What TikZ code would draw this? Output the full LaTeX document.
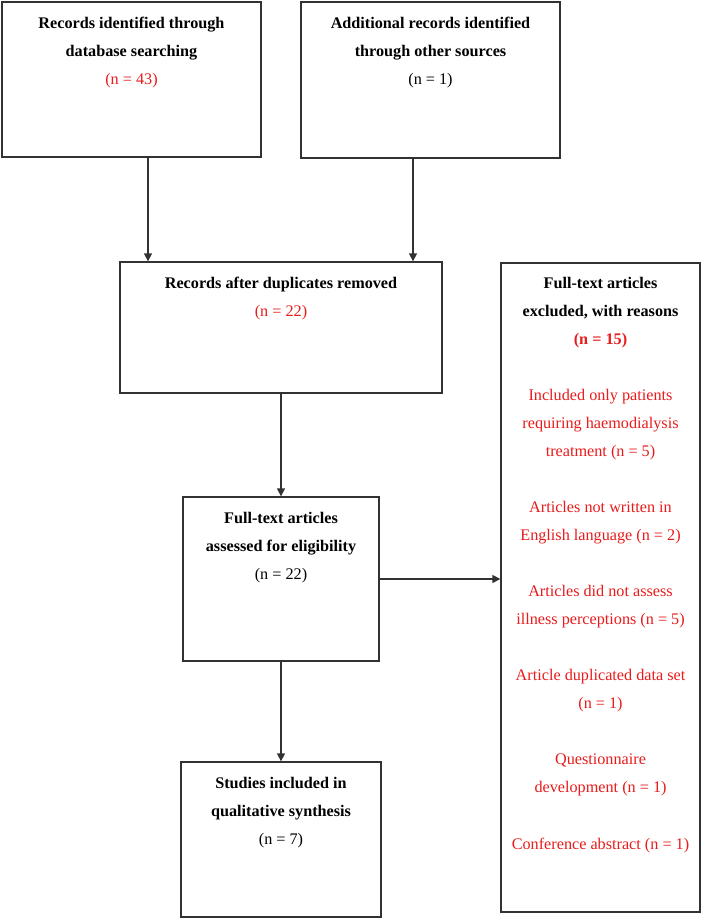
\documentclass[tikz,border=0pt]{standalone}
\usepackage{fontspec}
\setmainfont{Liberation Serif}
\usetikzlibrary{arrows.meta}
\definecolor{nred}{RGB}{232,28,28}
\definecolor{lgray}{RGB}{50,50,50}
\newcommand{\fs}{\fontsize{16.2pt}{28.05pt}\selectfont}
\newcommand{\rd}[1]{\textcolor{nred}{#1}}
\begin{document}
\begin{tikzpicture}[
  box/.style={draw=lgray, line width=1.3pt, inner sep=0pt, fill=white},
  txt/.style={inner sep=0pt, anchor=base, font=\fs},
  arr/.style={draw=lgray, line width=1.3pt, -{Triangle[length=8pt,width=8pt]}}
]
\useasboundingbox (0,0) rectangle (702pt,-920pt);
\fill[white] (0,0) rectangle (702pt,-920pt);
% boxes
\node[box, minimum width=259pt, minimum height=155pt] (b1) at (131.5pt,-79.5pt) {};
\node[box, minimum width=259pt, minimum height=156pt] (b2) at (430.5pt,-80pt) {};
\node[box, minimum width=322pt, minimum height=131pt] (b3) at (281pt,-327.5pt) {};
\node[box, minimum width=196pt, minimum height=164pt] (b4) at (281pt,-579pt) {};
\node[box, minimum width=200pt, minimum height=155pt] (b5) at (281pt,-839.5pt) {};
\node[box, minimum width=199pt, minimum height=649pt] (b6) at (600.5pt,-587.5pt) {};
% texts
\node[txt] (t1) at (131.5pt,-28.5pt) {\begin{tabular}[t]{@{}c@{}}\textbf{Records identified through}\\ \textbf{database searching}\\ \rd{(n = 43)}\end{tabular}};
\node[txt] (t2) at (430.5pt,-28.5pt) {\begin{tabular}[t]{@{}c@{}}\textbf{Additional records identified}\\ \textbf{through other sources}\\ (n = 1)\end{tabular}};
\node[txt] (t3) at (281pt,-288pt) {\begin{tabular}[t]{@{}c@{}}\textbf{Records after duplicates removed}\\ \rd{(n = 22)}\end{tabular}};
\node[txt] (t4) at (281pt,-523pt) {\begin{tabular}[t]{@{}c@{}}\textbf{Full-text articles}\\ \textbf{assessed for eligibility}\\ (n = 22)\end{tabular}};
\node[txt] (t5) at (281pt,-788pt) {\begin{tabular}[t]{@{}c@{}}\textbf{Studies included in}\\ \textbf{qualitative synthesis}\\ (n = 7)\end{tabular}};
\node[txt] (t6) at (600.5pt,-288pt) {\begin{tabular}[t]{@{}c@{}}\textbf{Full-text articles}\\ \textbf{excluded, with reasons}\\ \rd{\textbf{(n = 15)}}\\ \\
\rd{Included only patients}\\ \rd{requiring haemodialysis}\\ \rd{treatment (n = 5)}\\ \\
\rd{Articles not written in}\\ \rd{English language (n = 2)}\\ \\
\rd{Articles did not assess}\\ \rd{illness perceptions (n = 5)}\\ \\
\rd{Article duplicated data set}\\ \rd{(n = 1)}\\ \\
\rd{Questionnaire}\\ \rd{development (n = 1)}\\ \\
\rd{Conference abstract (n = 1)}\end{tabular}};
% connectors
\draw[arr] (148pt,0 |- b1.south) -- (148pt,0 |- b3.north);
\draw[arr] (413pt,0 |- b2.south) -- (413pt,0 |- b3.north);
\draw[arr] (b3.south -| b4.north) -- (b4.north);
\draw[arr] (b4.east) -- (b4.east -| b6.west);
\draw[arr] (b4.south) -- (b5.north);
\end{tikzpicture}
\end{document}
